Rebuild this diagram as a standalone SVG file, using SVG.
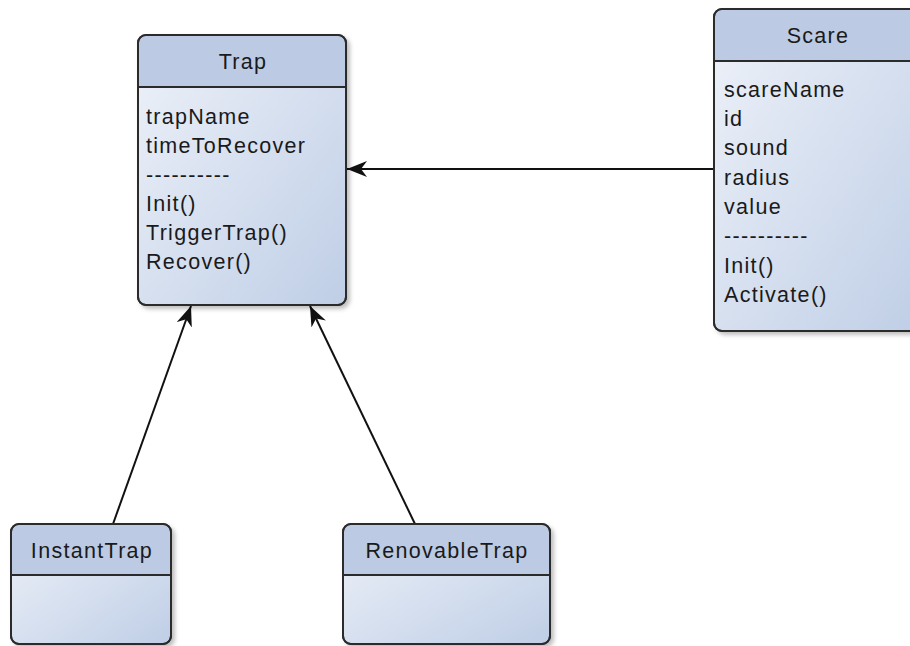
<svg xmlns="http://www.w3.org/2000/svg" width="910" height="646" viewBox="0 0 910 646">
<style>
.box{stroke:#2b2b2b;stroke-width:2;fill:url(#body)}
.hdr{fill:#bccbe3}
.sep{stroke:#2b2b2b;stroke-width:2}
.t{font-family:"Liberation Sans",Arial,sans-serif;font-size:21.5px;letter-spacing:1.3px;fill:#1a1a1a}
.c{text-anchor:middle}
.edge{stroke:#111;stroke-width:2;fill:none;marker-end:url(#arr)}
</style>
<defs>
<linearGradient id="body" x1="0" y1="0" x2="1" y2="1">
<stop offset="0" stop-color="#eef2f9"/>
<stop offset="1" stop-color="#bfcee6"/>
</linearGradient>
<filter id="sh" x="-10%" y="-10%" width="130%" height="130%">
<feDropShadow dx="3" dy="3" stdDeviation="2" flood-color="#000" flood-opacity="0.25"/>
</filter>
<marker id="arr" markerUnits="userSpaceOnUse" markerWidth="22" markerHeight="18" refX="20" refY="8" orient="auto">
<path d="M0,0 L20,8 L0,16 L6,8 z" fill="#111"/>
</marker>
</defs>
<rect width="910" height="646" fill="#fff"/>

<g id="connectors">
<line class="edge" x1="113" y1="524" x2="191" y2="306"/>
<line class="edge" x1="415" y1="524" x2="310" y2="306"/>
<line class="edge" x1="714" y1="169" x2="347" y2="169"/>
</g>

<g id="Trap">
<rect class="box" x="138" y="35" width="208" height="270" rx="8" filter="url(#sh)"/>
<path class="hdr" d="M146,36 H338 A7,7 0 0 1 345,43 V87 H139 V43 A7,7 0 0 1 146,36 z"/>
<rect x="138" y="35" width="208" height="270" rx="8" fill="none" stroke="#2b2b2b" stroke-width="2"/>
<line class="sep" x1="138" y1="87" x2="346" y2="87"/>
<text class="t c" x="243" y="69">Trap</text>
<text class="t" x="146" y="124">trapName</text>
<text class="t" x="146" y="153">timeToRecover</text>
<text class="t" x="146" y="182">----------</text>
<text class="t" x="146" y="211">Init()</text>
<text class="t" x="146" y="240">TriggerTrap()</text>
<text class="t" x="146" y="269">Recover()</text>
</g>

<g id="Scare">
<rect class="box" x="714" y="9" width="210" height="322" rx="8" filter="url(#sh)"/>
<path class="hdr" d="M722,10 H916 A7,7 0 0 1 923,17 V61 H715 V17 A7,7 0 0 1 722,10 z"/>
<rect x="714" y="9" width="210" height="322" rx="8" fill="none" stroke="#2b2b2b" stroke-width="2"/>
<line class="sep" x1="714" y1="61" x2="924" y2="61"/>
<text class="t c" x="818" y="43">Scare</text>
<text class="t" x="724" y="97">scareName</text>
<text class="t" x="724" y="126">id</text>
<text class="t" x="724" y="155">sound</text>
<text class="t" x="724" y="185">radius</text>
<text class="t" x="724" y="214">value</text>
<text class="t" x="724" y="243">----------</text>
<text class="t" x="724" y="273">Init()</text>
<text class="t" x="724" y="302">Activate()</text>
</g>

<g id="InstantTrap">
<rect class="box" x="11" y="524" width="160" height="120" rx="8" filter="url(#sh)"/>
<path class="hdr" d="M19,525 H163 A7,7 0 0 1 170,532 V575 H12 V532 A7,7 0 0 1 19,525 z"/>
<rect x="11" y="524" width="160" height="120" rx="8" fill="none" stroke="#2b2b2b" stroke-width="2"/>
<line class="sep" x1="11" y1="575" x2="171" y2="575"/>
<text class="t c" x="92" y="558">InstantTrap</text>
</g>

<g id="RenovableTrap">
<rect class="box" x="343" y="524" width="207" height="120" rx="8" filter="url(#sh)"/>
<path class="hdr" d="M351,525 H542 A7,7 0 0 1 549,532 V575 H344 V532 A7,7 0 0 1 351,525 z"/>
<rect x="343" y="524" width="207" height="120" rx="8" fill="none" stroke="#2b2b2b" stroke-width="2"/>
<line class="sep" x1="343" y1="575" x2="550" y2="575"/>
<text class="t c" x="447" y="558">RenovableTrap</text>
</g>
</svg>
